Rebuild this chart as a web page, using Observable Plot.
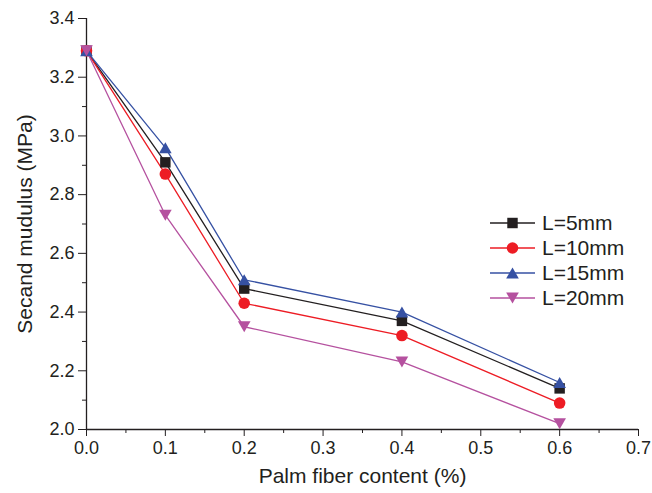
<!DOCTYPE html>
<html>
<head>
<meta charset="utf-8">
<script src="https://cdn.jsdelivr.net/npm/d3@7"></script>
<script src="https://cdn.jsdelivr.net/npm/@observablehq/plot@0.6"></script>
<style>
  html, body { margin: 0; padding: 0; background: #fff; }
  #chart { position: relative; width: 652px; height: 493px; font-family: "Liberation Sans", Arial, sans-serif; }
  #legend { position: absolute; left: 0; top: 0; pointer-events: none; }
</style>
</head>
<body>
<div id="chart"></div>
<script>
// ---- data ----
const fiberContent = [0.0, 0.1, 0.2, 0.4, 0.6];
const seriesNames = ["L=5mm", "L=10mm", "L=15mm", "L=20mm"];
const L5  = [3.29, 2.91, 2.48, 2.37, 2.14];
const L10 = [3.29, 2.87, 2.43, 2.32, 2.09];
const L15 = [3.29, 2.96, 2.51, 2.40, 2.16];
const L20 = [3.29, 2.73, 2.35, 2.23, 2.02];
const seriesValues = [L5, L10, L15, L20];
const seriesColors = ["#231f20", "#ed1c24", "#3651a3", "#b5519f"];
const xTicks = [0, 0.1, 0.2, 0.3, 0.4, 0.5, 0.6, 0.7];
const xMinor = [0.05, 0.15, 0.25, 0.35, 0.45, 0.55, 0.65];
const yTicks = [2.0, 2.2, 2.4, 2.6, 2.8, 3.0, 3.2, 3.4];
const yMinor = [2.1, 2.3, 2.5, 2.7, 2.9, 3.1, 3.3];
const xDomain = [0, 0.7];
const yDomain = [2.0, 3.4];
const xTitle = "Palm fiber content (%)";
const yTitle = "Secand mudulus (MPa)";

// ---- symbols ----
const symSquare = { draw(ctx, size) { const r = Math.sqrt(size / Math.PI) * 0.95; ctx.moveTo(-r, -r); ctx.lineTo(r, -r); ctx.lineTo(r, r); ctx.lineTo(-r, r); ctx.closePath(); } };
const symCircle = { draw(ctx, size) { const r = Math.sqrt(size / Math.PI) * 1.05; ctx.moveTo(r, 0); ctx.arc(0, 0, r, 0, 2 * Math.PI); } };
const symTriUp = { draw(ctx, size) { const r = Math.sqrt(size / Math.PI); const w = r * 1.15, h = r * 1.0; ctx.moveTo(0, -h); ctx.lineTo(w, h); ctx.lineTo(-w, h); ctx.closePath(); } };
const symTriDown = { draw(ctx, size) { const r = Math.sqrt(size / Math.PI); const w = r * 1.15, h = r * 1.0; ctx.moveTo(0, h); ctx.lineTo(w, -h); ctx.lineTo(-w, -h); ctx.closePath(); } };
const seriesSymbols = [symSquare, symCircle, symTriUp, symTriDown];

const data = [];
seriesNames.forEach((name, i) => {
  fiberContent.forEach((x, j) => data.push({ series: name, x, y: seriesValues[i][j] }));
});

const fmt = d3.format(".1f");
const W = 652, H = 493;
const mL = 86, mR = 14, mT = 18, mB = 64;

const chart = Plot.plot({
  width: W, height: H,
  marginLeft: mL, marginRight: mR, marginTop: mT, marginBottom: mB,
  style: { fontFamily: "'Liberation Sans', Arial, sans-serif", color: "#231f20", background: "#fff" },
  x: { domain: xDomain, axis: null },
  y: { domain: yDomain, axis: null },
  color: { domain: seriesNames, range: seriesColors },
  symbol: { domain: seriesNames, range: seriesSymbols },
  marks: [
    Plot.axisX({ ticks: xTicks, tickSize: 7, tickPadding: 5, tickFormat: fmt, fontSize: 18, label: null }),
    Plot.axisX({ ticks: xMinor, tickSize: 4, tickFormat: () => "", label: null }),
    Plot.axisY({ ticks: yTicks, tickSize: 8, tickPadding: 4, tickFormat: fmt, fontSize: 18, label: null }),
    Plot.axisY({ ticks: yMinor, tickSize: 4, tickFormat: () => "", label: null }),
    Plot.ruleX([xDomain[0]], { stroke: "#231f20", strokeWidth: 1.3 }),
    Plot.ruleY([yDomain[0]], { stroke: "#231f20", strokeWidth: 1.3 }),
    Plot.text([xTitle], { frameAnchor: "bottom", textAnchor: "middle", dy: 53, fontSize: 21, fill: "#231f20" }),
    Plot.text([yTitle], { frameAnchor: "left", textAnchor: "middle", dx: -61, rotate: -90, fontSize: 21, fill: "#231f20" }),
    Plot.line(data, { x: "x", y: "y", z: "series", stroke: "series", strokeWidth: 1.3 }),
    Plot.dot(data, { x: "x", y: "y", symbol: "series", fill: "series", stroke: "none", r: 5.5 })
  ]
});
document.getElementById("chart").appendChild(chart);

// ---- legend overlay ----
const legendX = 490, legendY = 223, legendStep = 25;
const svg = d3.select("#chart").append("svg")
  .attr("id", "legend").attr("width", W).attr("height", H);
seriesNames.forEach((name, i) => {
  const g = svg.append("g").attr("transform", `translate(${legendX},${legendY + i * legendStep})`);
  g.append("line").attr("x1", 0).attr("x2", 45).attr("y1", 0).attr("y2", 0)
    .attr("stroke", seriesColors[i]).attr("stroke-width", 1.3);
  const p = d3.path();
  seriesSymbols[i].draw(p, Math.PI * 5.5 * 5.5);
  g.append("path").attr("d", p.toString()).attr("transform", "translate(22.5,0)").attr("fill", seriesColors[i]);
  g.append("text").attr("x", 52).attr("y", 0).attr("dy", "0.35em")
    .attr("font-size", 21).attr("fill", "#231f20")
    .attr("font-family", "'Liberation Sans', Arial, sans-serif").text(name);
});
</script>
</body>
</html>
